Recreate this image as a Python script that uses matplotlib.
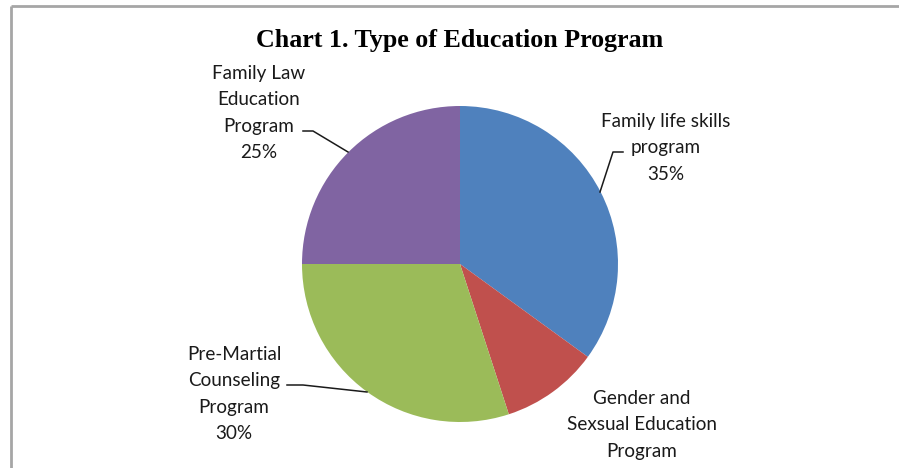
import matplotlib.pyplot as plt

# datos
labels = ["Family life skills\nprogram\n35%",
          "Gender and\nSexsual Education\nProgram",
          "Pre-Martial\nCounseling\nProgram\n30%",
          "Family Law\nEducation\nProgram\n25%"]
values = [35, 10, 30, 25]
colors = ["#4F81BD", "#C0504D", "#9BBB59", "#8064A2"]
title = "Chart 1. Type of Education Program"

W, H = 899, 468
fig = plt.figure(figsize=(W / 100, H / 100), dpi=100)
ax = fig.add_axes([0, 0, 1, 1])

# pie en coordenadas de pixel (y hacia arriba)
cx, cy, r = 460, H - 264, 158
ax.pie(values, colors=colors, startangle=90, counterclock=False,
       center=(cx, cy), radius=r, wedgeprops=dict(linewidth=0))
ax.set_xlim(0, W)
ax.set_ylim(0, H)
ax.set_aspect("equal")
ax.axis("off")

# etiquetas
lab_font = dict(family="Lato", fontsize=13.6, color="#1a1a1a",
                ha="center", va="center", linespacing=1.65)
label_pos = [(666, 148), (642, 425), (234, 394), (259, 113)]
for txt, (x, y) in zip(labels, label_pos):
    ax.text(x, H - y, txt, **lab_font)

# líneas guía
leaders = [
    [(600, 192), (613, 152), (623, 152)],
    [(287, 385), (303, 385), (367, 392)],
    [(303, 131), (313, 131), (348, 152)],
]
for pts in leaders:
    xs = [p[0] for p in pts]
    ys = [H - p[1] for p in pts]
    ax.plot(xs, ys, color="#1a1a1a", lw=1.1)

# título
ax.text(460, H - 40, title, family="Liberation Serif", fontweight="bold",
        fontsize=18.7, ha="center", va="center", color="black")

# borde
ax.plot([11, W], [H - 6, H - 6], color="#a6a6a6", lw=2, solid_capstyle="butt")
ax.plot([11, 11], [H - 6, 0], color="#a6a6a6", lw=2, solid_capstyle="butt")

fig.savefig("out.png", dpi=100)
